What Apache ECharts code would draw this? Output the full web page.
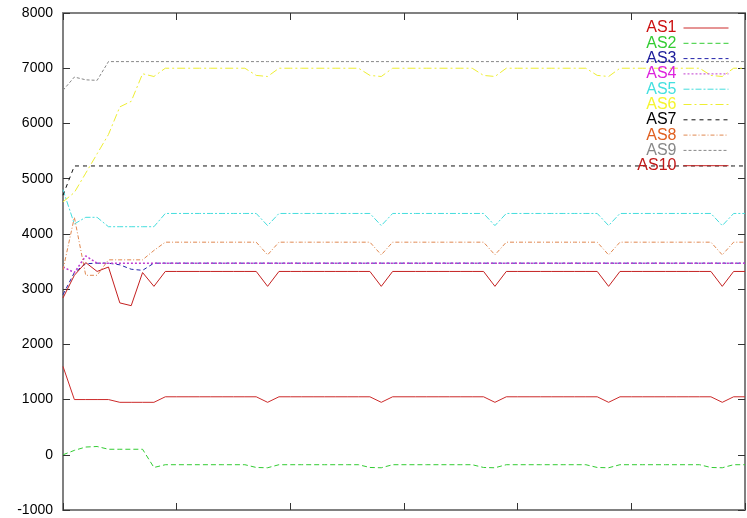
<!DOCTYPE html>
<html>
<head>
<meta charset="utf-8">
<script src="https://cdn.jsdelivr.net/npm/echarts@6/dist/echarts.min.js"></script>
<style>
html,body{margin:0;padding:0;background:#fff;}
#main_chart{width:747px;height:518px;}
</style>
</head>
<body>
<div id="main_chart"></div>
<script>
// 系列名称
var seriesNames = ['AS1','AS2','AS3','AS4','AS5','AS6','AS7','AS8','AS9','AS10'];
// y轴刻度
var yTicks = [-1000,0,1000,2000,3000,4000,5000,6000,7000,8000];

// 各系列数据 (x = 0..60)
var as1 = [1600,1000,1000,1000,1000,950,950,950,950,1050,
           1050,1050,1050,1050,1050,1050,1050,1050,950,1050,
           1050,1050,1050,1050,1050,1050,1050,1050,950,1050,
           1050,1050,1050,1050,1050,1050,1050,1050,950,1050,
           1050,1050,1050,1050,1050,1050,1050,1050,950,1050,
           1050,1050,1050,1050,1050,1050,1050,1050,950,1050,
           1050];
var as2 = [0,80,140,150,100,100,100,100,-230,-180,
           -180,-180,-180,-180,-180,-180,-180,-230,-235,-180,
           -180,-180,-180,-180,-180,-180,-180,-230,-235,-180,
           -180,-180,-180,-180,-180,-180,-180,-230,-235,-180,
           -180,-180,-180,-180,-180,-180,-180,-230,-235,-180,
           -180,-180,-180,-180,-180,-180,-180,-230,-235,-180,
           -180];
var as3 = [2900,3300,3460,3470,3470,3440,3360,3340,3470,3470,
           3470,3470,3470,3470,3470,3470,3470,3470,3470,3470,
           3470,3470,3470,3470,3470,3470,3470,3470,3470,3470,
           3470,3470,3470,3470,3470,3470,3470,3470,3470,3470,
           3470,3470,3470,3470,3470,3470,3470,3470,3470,3470,
           3470,3470,3470,3470,3470,3470,3470,3470,3470,3470,
           3470];
var as4 = [3400,3300,3600,3470,3470,3470,3470,3470,3470,3470,
           3470,3470,3470,3470,3470,3470,3470,3470,3470,3470,
           3470,3470,3470,3470,3470,3470,3470,3470,3470,3470,
           3470,3470,3470,3470,3470,3470,3470,3470,3470,3470,
           3470,3470,3470,3470,3470,3470,3470,3470,3470,3470,
           3470,3470,3470,3470,3470,3470,3470,3470,3470,3470,
           3470];
var as5 = [4800,4180,4300,4300,4130,4130,4130,4130,4130,4370,
           4370,4370,4370,4370,4370,4370,4370,4370,4150,4370,
           4370,4370,4370,4370,4370,4370,4370,4370,4150,4370,
           4370,4370,4370,4370,4370,4370,4370,4370,4150,4370,
           4370,4370,4370,4370,4370,4370,4370,4370,4150,4370,
           4370,4370,4370,4370,4370,4370,4370,4370,4150,4370,
           4370];
var as6 = [4580,4750,5100,5450,5800,6300,6400,6900,6850,7000,
           7000,7000,7000,7000,7000,7000,7000,6870,6850,7000,
           7000,7000,7000,7000,7000,7000,7000,6870,6850,7000,
           7000,7000,7000,7000,7000,7000,7000,6870,6850,7000,
           7000,7000,7000,7000,7000,7000,7000,6870,6850,7000,
           7000,7000,7000,7000,7000,7000,7000,6870,6850,7000,
           7000];
var as7 = [4700,5230,5230,5230,5230,5230,5230,5230,5230,5230,
           5230,5230,5230,5230,5230,5230,5230,5230,5230,5230,
           5230,5230,5230,5230,5230,5230,5230,5230,5230,5230,
           5230,5230,5230,5230,5230,5230,5230,5230,5230,5230,
           5230,5230,5230,5230,5230,5230,5230,5230,5230,5230,
           5230,5230,5230,5230,5230,5230,5230,5230,5230,5230,
           5230];
var as8 = [3350,4300,3250,3250,3530,3530,3530,3530,3700,3850,
           3850,3850,3850,3850,3850,3850,3850,3850,3620,3850,
           3850,3850,3850,3850,3850,3850,3850,3850,3620,3850,
           3850,3850,3850,3850,3850,3850,3850,3850,3620,3850,
           3850,3850,3850,3850,3850,3850,3850,3850,3620,3850,
           3850,3850,3850,3850,3850,3850,3850,3850,3620,3850,
           3850];
var as9 = [6600,6840,6790,6780,7120,7120,7120,7120,7120,7120,
           7120,7120,7120,7120,7120,7120,7120,7120,7120,7120,
           7120,7120,7120,7120,7120,7120,7120,7120,7120,7120,
           7120,7120,7120,7120,7120,7120,7120,7120,7120,7120,
           7120,7120,7120,7120,7120,7120,7120,7120,7120,7120,
           7120,7120,7120,7120,7120,7120,7120,7120,7120,7120,
           7120];
var as10 = [2840,3250,3480,3320,3400,2750,2700,3300,3050,3320,
            3320,3320,3320,3320,3320,3320,3320,3320,3050,3320,
            3320,3320,3320,3320,3320,3320,3320,3320,3050,3320,
            3320,3320,3320,3320,3320,3320,3320,3320,3050,3320,
            3320,3320,3320,3320,3320,3320,3320,3320,3050,3320,
            3320,3320,3320,3320,3320,3320,3320,3320,3050,3320,
            3320];

var allData = [as1,as2,as3,as4,as5,as6,as7,as8,as9,as10];
var lineColors = ['#cc2a2a','#33cc33','#2222aa','#c03cd0','#44dddd','#eeee33','#111111','#e08850','#888888','#c42020'];
var textColors = ['#cc1010','#33cc33','#1a1a9a','#dd22dd','#44e0e0','#f5f530','#000000','#e06020','#888888','#c01818'];
var dashTypes = ['solid',[5,3],[4,3],[2,2],[6,2,2,2],[8,3,2,3],[4,4],[4,2,1,2],[3,2],'solid'];

var fontFam = '"Liberation Sans", Arial, sans-serif';

var mySeries = [];
var legendData = [];
for (var j = 0; j < seriesNames.length; j++) {
    var pts = [];
    for (var i = 0; i < allData[j].length; i++) {
        pts.push([i, allData[j][i]]);
    }
    mySeries.push({
        name: seriesNames[j],
        type: 'line',
        data: pts,
        symbol: 'none',
        xAxisIndex: 0,
        yAxisIndex: 0,
        lineStyle: {color: lineColors[j], width: (j == 3 ? 1.5 : 1), type: dashTypes[j]},
        itemStyle: {color: lineColors[j]}
    });
    legendData.push({name: seriesNames[j], textStyle: {color: textColors[j]}});
}

var axLine = {show: true, onZero: false, lineStyle: {color: '#808080', width: 2}};
var axTick = {show: true, inside: true, length: 7, lineStyle: {color: '#333', width: 1}};

var myChart = echarts.init(document.getElementById('main_chart'));
var option = {
    animation: false,
    backgroundColor: '#fff',
    grid: {left: 63, right: 2, top: 13, bottom: 8},
    legend: {
        orient: 'vertical',
        right: 13,
        top: 15,
        align: 'right',
        itemWidth: 45,
        itemHeight: 10,
        itemGap: -0.7,
        selectedMode: false,
        itemStyle: {opacity: 0},
        lineStyle: {width: 1},
        textStyle: {fontFamily: fontFam, fontSize: 16, lineHeight: 15, padding: [0, 2, 0, 0]},
        data: legendData
    },
    xAxis: [
        {type: 'value', min: 0, max: 60, interval: 10, position: 'bottom',
         axisLine: axLine, axisTick: axTick, axisLabel: {show: false}, splitLine: {show: false}},
        {type: 'value', min: 0, max: 60, interval: 10, position: 'top',
         axisLine: axLine, axisTick: axTick, axisLabel: {show: false}, splitLine: {show: false}}
    ],
    yAxis: [
        {type: 'value', min: yTicks[0], max: yTicks[yTicks.length - 1], interval: 1000, position: 'left',
         axisLine: axLine, axisTick: axTick, splitLine: {show: false},
         axisLabel: {color: '#000', fontSize: 14, fontFamily: fontFam, margin: 10,
                     formatter: function (v) { return String(v); }}},
        {type: 'value', min: yTicks[0], max: yTicks[yTicks.length - 1], interval: 1000, position: 'right',
         axisLine: axLine, axisTick: axTick, axisLabel: {show: false}, splitLine: {show: false}}
    ],
    series: mySeries
};
myChart.setOption(option);
</script>
</body>
</html>
